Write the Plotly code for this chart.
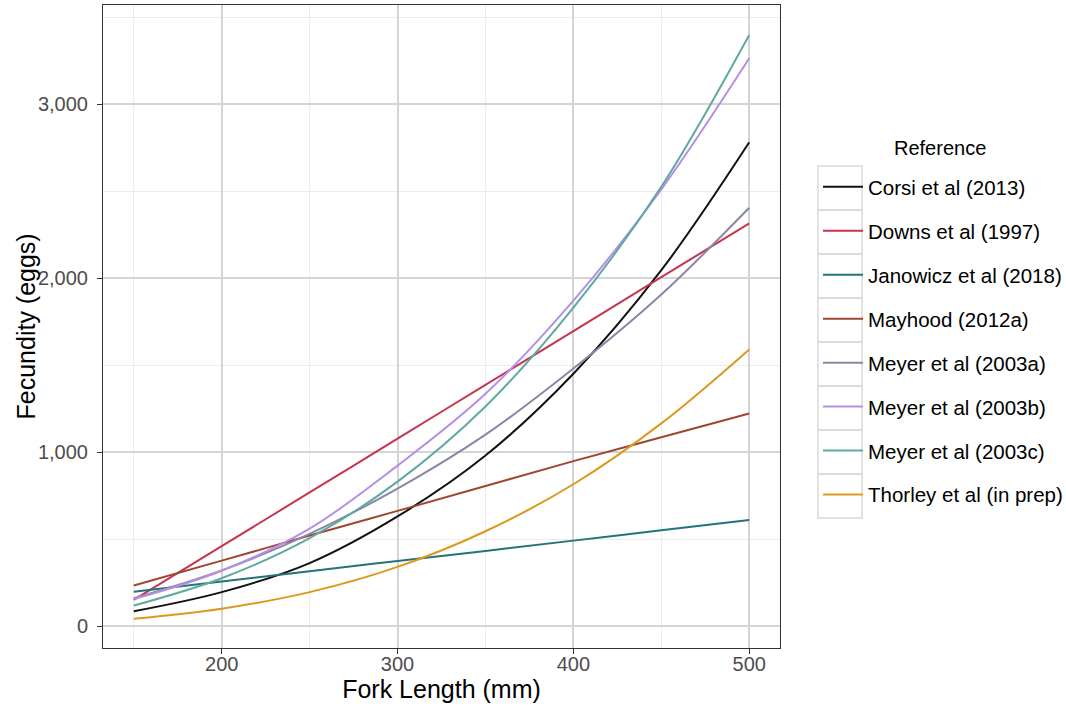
import plotly.graph_objects as go

# Fork length (mm) at which each fecundity curve is tabulated
fork_length = [150, 200, 250, 300, 350, 400, 450, 500]

# Predicted fecundity (eggs) for each published relationship
corsi_2013 = [85, 195, 362, 630, 980, 1450, 2045, 2780]
downs_1997 = [150, 459, 768, 1077, 1386, 1695, 2005, 2314]
janowicz_2018 = [197, 256, 315, 374, 432, 491, 550, 609]
mayhood_2012a = [233, 376, 520, 662, 805, 948, 1085, 1222]
meyer_2003a = [160, 320, 530, 790, 1100, 1480, 1905, 2404]
meyer_2003b = [155, 318, 560, 922, 1335, 1870, 2510, 3263]
meyer_2003c = [118, 275, 505, 830, 1262, 1830, 2525, 3397]
thorley_prep = [42, 100, 195, 340, 545, 815, 1165, 1590]

series = [
    ("Corsi et al (2013)", corsi_2013, "#111111"),
    ("Downs et al (1997)", downs_1997, "#C7344F"),
    ("Janowicz et al (2018)", janowicz_2018, "#23737A"),
    ("Mayhood (2012a)", mayhood_2012a, "#9E4631"),
    ("Meyer et al (2003a)", meyer_2003a, "#8B86A6"),
    ("Meyer et al (2003b)", meyer_2003b, "#B48FE6"),
    ("Meyer et al (2003c)", meyer_2003c, "#5EA9A0"),
    ("Thorley et al (in prep)", thorley_prep, "#DB9A1D"),
]

x_ticks = [200, 300, 400, 500]
y_ticks = [0, 1000, 2000, 3000]
y_tick_text = ["0", "1,000", "2,000", "3,000"]

fig = go.Figure()
for i, (name, values, colour) in enumerate(series):
    fig.add_trace(go.Scatter(
        x=fork_length, y=values, name=name, mode="lines",
        line=dict(color=colour, width=2, shape="spline", smoothing=1.0),
        legendgroup=f"g{i}",
    ))

FONT = "Liberation Sans, Arial, sans-serif"
L, R, T, B = 103, 286, 5, 63
W, H = 1066, 711
plot_w = W - L - R
plot_h = H - T - B


def px_x(px):
    return (px - L) / plot_w


def px_y(py):
    return (H - B - py) / plot_h


axis_common = dict(
    showline=True, linecolor="#333333", linewidth=1, mirror=True,
    ticks="outside", ticklen=5, tickcolor="#333333", tickwidth=1,
    tickfont=dict(family=FONT, size=20, color="#4D4D4D"),
    showgrid=True, gridcolor="#D4D4D4", gridwidth=1.6,
    zeroline=False,
)

fig.update_layout(
    width=W, height=H,
    margin=dict(l=L, r=R, t=T, b=B, autoexpand=False),
    paper_bgcolor="white", plot_bgcolor="white",
    font=dict(family=FONT, color="#000000"),
    xaxis=dict(
        range=[132.5, 517.5], tickvals=x_ticks, ticklabelstandoff=-7,
        minor=dict(dtick=50, tick0=0, showgrid=True, gridcolor="#ECECEC", gridwidth=1, ticks=""),
        title=dict(text="Fork Length (mm)", font=dict(family=FONT, size=25, color="#000000"), standoff=4),
        **axis_common,
    ),
    yaxis=dict(
        range=[-126, 3569], tickvals=y_ticks, ticktext=y_tick_text, ticklabelstandoff=5,
        minor=dict(dtick=500, tick0=0, showgrid=True, gridcolor="#ECECEC", gridwidth=1, ticks=""),
        **axis_common,
    ),
    legend=dict(
        x=px_x(818), y=px_y(167), xanchor="left", yanchor="top",
        font=dict(family=FONT, size=20.5, color="#000000"),
        tracegroupgap=14.3, itemwidth=40,
        bgcolor="rgba(0,0,0,0)",
    ),
    showlegend=True,
)

# y-axis title, placed in the left margin
fig.add_annotation(
    x=px_x(25), y=0.5, xref="paper", yref="paper",
    text="Fecundity (eggs)", textangle=-90, showarrow=False,
    xanchor="center", yanchor="middle",
    font=dict(family=FONT, size=25, color="#000000"),
)

# legend heading
fig.add_annotation(
    x=px_x(940), y=px_y(148), xref="paper", yref="paper",
    text="Reference", showarrow=False, xanchor="center", yanchor="middle",
    font=dict(family=FONT, size=20, color="#000000"),
)

# light boxes around each legend key
key_left, key_right, key_top, key_h = 818, 862, 166, 44
for i in range(len(series)):
    y0 = key_top + i * key_h
    fig.add_shape(
        type="rect", xref="paper", yref="paper",
        x0=px_x(key_left), x1=px_x(key_right),
        y0=px_y(y0), y1=px_y(y0 + key_h),
        line=dict(color="#D9D9D9", width=1.5), fillcolor="rgba(0,0,0,0)", layer="below",
    )

fig.write_html("out.html")
